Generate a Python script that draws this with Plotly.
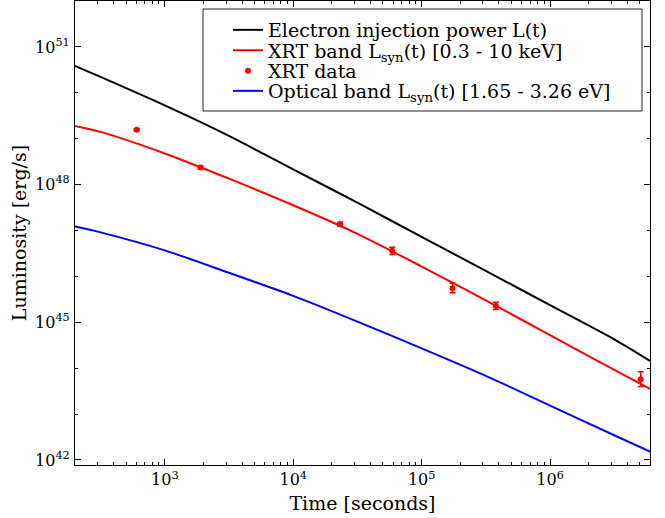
import plotly.graph_objects as go
import numpy as np

# ---- data ----
t_model = [2.0e2, 3.16e2, 1.0e3, 3.16e3, 1.0e4, 3.16e4, 1.0e5, 3.16e5, 1.0e6, 3.16e6, 6.0e6]
logL_injection = [50.586, 50.346, 49.725, 49.061, 48.331, 47.606, 46.861, 46.120, 45.373, 44.628, 44.159]
logL_xrt_band = [49.279, 49.148, 48.678, 48.129, 47.549, 46.926, 46.214, 45.475, 44.721, 43.961, 43.549]
logL_optical = [47.085, 46.959, 46.566, 46.078, 45.575, 45.015, 44.431, 43.832, 43.185, 42.538, 42.183]

t_xrt = [604, 1900, 2.32e4, 5.9e4, 1.74e5, 3.78e5, 5.08e6]
logL_xrt = [49.192, 48.370, 47.137, 46.556, 45.743, 45.357, 43.760]
err_dex = [0.02, 0.03, 0.04, 0.08, 0.10, 0.08, 0.16]

y_major = [1e42, 1e45, 1e48, 1e51]
y_major_text = ["10<sup>42</sup>", "10<sup>45</sup>", "10<sup>48</sup>", "10<sup>51</sup>"]
x_major = [1e3, 1e4, 1e5, 1e6]
x_major_text = ["10<sup>3</sup>", "10<sup>4</sup>", "10<sup>5</sup>", "10<sup>6</sup>"]

names = ["Electron injection power L(t)",
         "XRT band L<sub>syn</sub>(t) [0.3 - 10 keV]",
         "XRT data",
         "Optical band L<sub>syn</sub>(t) [1.65 - 3.26 eV]"]

# ---- derived ----
L_inj = 10 ** np.array(logL_injection)
L_xband = 10 ** np.array(logL_xrt_band)
L_opt = 10 ** np.array(logL_optical)
L_x = 10 ** np.array(logL_xrt)
e = np.array(err_dex)
err_plus = L_x * (10 ** e - 1)
err_minus = L_x * (1 - 10 ** (-e))

x_minor = [m * 10 ** k for k in range(2, 7) for m in range(2, 10)]
y_minor = [10.0 ** k for k in range(42, 53)]

FONT = "DejaVu Serif"
W, H = 665, 518
ML, MR, MT, MB = 75, 15, 1, 53
PW, PH = W - ML - MR, H - MT - MB


def px_x(px):
    return (px - ML) / PW


def px_y(py):
    return 1 - (py - MT) / PH


fig = go.Figure()
fig.add_trace(go.Scatter(x=t_model, y=L_inj, mode="lines", name=names[0], legend="legend2",
                         line=dict(color="#000000", width=2, shape="spline", smoothing=0.8)))
fig.add_trace(go.Scatter(x=t_model, y=L_xband, mode="lines", name=names[1], legend="legend3",
                         line=dict(color="#ff0000", width=2, shape="spline", smoothing=0.8)))
fig.add_trace(go.Scatter(x=t_xrt, y=L_x, mode="markers", name=names[2], legend="legend4",
                         marker=dict(color="#ff0000", size=6),
                         error_y=dict(type="data", symmetric=False, array=err_plus,
                                      arrayminus=err_minus, color="#ff0000",
                                      thickness=1.5, width=3)))
fig.add_trace(go.Scatter(x=t_model, y=L_opt, mode="lines", name=names[3], legend="legend5",
                         line=dict(color="#0000ff", width=2, shape="spline", smoothing=0.8)))

axis_common = dict(showgrid=False, zeroline=False, showline=True, linecolor="black",
                   linewidth=1.3, mirror="allticks", ticks="inside", ticklen=6,
                   tickwidth=1, tickcolor="black",
                   tickfont=dict(family=FONT, size=16, color="black"))

fig.update_xaxes(type="log", range=[np.log10(200), np.log10(6.0e6)],
                 tickmode="array", tickvals=x_major, ticktext=x_major_text,
                 minor=dict(tickmode="array", tickvals=x_minor, ticks="inside",
                            ticklen=3, tickcolor="black", tickwidth=1),
                 title=dict(text="Time [seconds]", font=dict(family=FONT, size=19, color="black"),
                            standoff=8),
                 **axis_common)
fig.update_yaxes(type="log", range=[41.89, 52.0],
                 tickmode="array", tickvals=y_major, ticktext=y_major_text,
                 minor=dict(tickmode="array", tickvals=y_minor, ticks="inside",
                            ticklen=3, tickcolor="black", tickwidth=1),
                 ticklabelstandoff=1,
                 title=dict(text="Luminosity [erg/s]", font=dict(family=FONT, size=19, color="black"),
                            standoff=3),
                 **axis_common)

# legend frame
fig.add_shape(type="rect", xref="paper", yref="paper",
              x0=px_x(203), x1=px_x(642), y0=px_y(111), y1=px_y(9),
              line=dict(color="#222222", width=1), fillcolor="white", layer="above")

# one single-entry legend per row, placed at the reference row centres
row_centers = [30, 50.5, 71, 91]
leg_left = 228
legends = {}
for i, yc in enumerate(row_centers):
    key = f"legend{i + 2}"
    legends[key] = dict(x=px_x(leg_left), y=px_y(yc), xanchor="left", yanchor="middle",
                        bgcolor="rgba(0,0,0,0)", borderwidth=0, itemwidth=30,
                        font=dict(family=FONT, size=19, color="black"))

fig.update_layout(
    width=W, height=H,
    margin=dict(l=ML, r=MR, t=MT, b=MB),
    paper_bgcolor="white", plot_bgcolor="white",
    font=dict(family=FONT, size=18, color="black"),
    showlegend=True,
    **legends,
)

fig.write_html("out.html")
